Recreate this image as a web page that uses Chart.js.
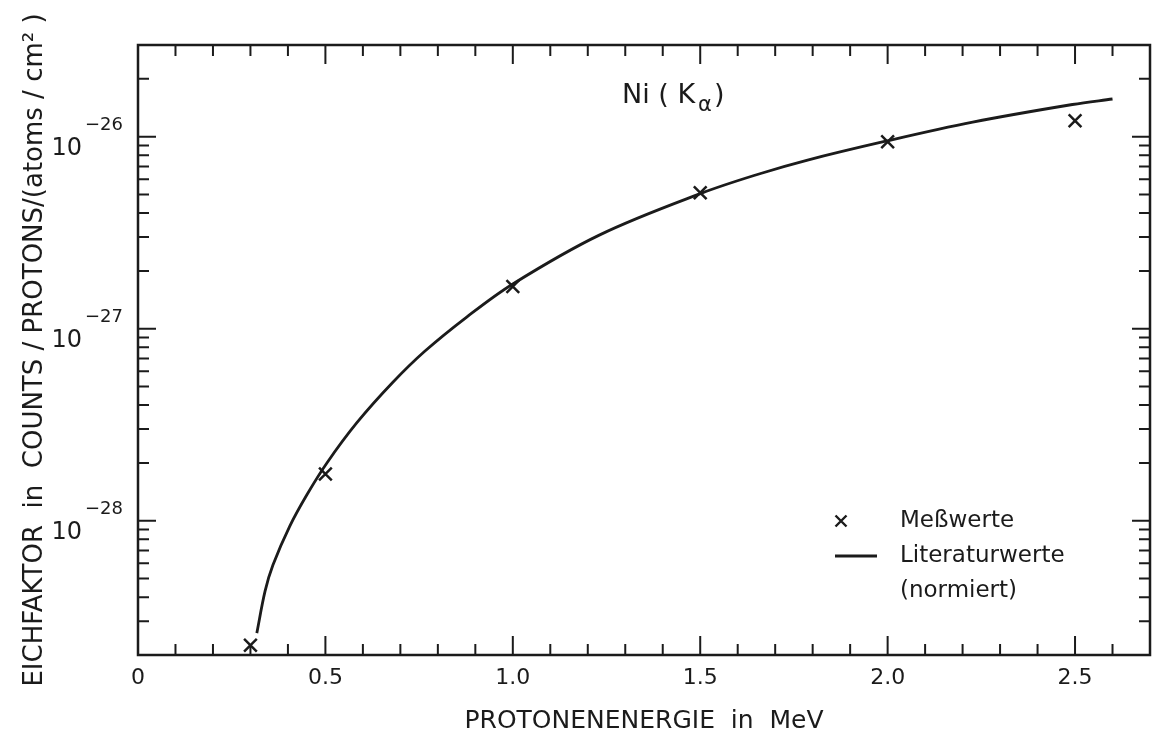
<!DOCTYPE html>
<html>
<head>
<meta charset="utf-8">
<script src="https://cdn.jsdelivr.net/npm/chart.js@4.4.1/dist/chart.umd.min.js"></script>
<style>
  html, body { margin: 0; padding: 0; background: #fff; }
</style>
</head>
<body>
<canvas id="chart" width="1162" height="740"></canvas>
<script>
// Meßwerte (crosses)
const energies = [0.3, 0.5, 1.0, 1.5, 2.0, 2.5];
const measured = [2.25e-29, 1.75e-28, 1.66e-27, 5.1e-27, 9.4e-27, 1.21e-26];

// Literaturwerte (normiert)
const curveEnergies = [0.317, 0.339, 0.36, 0.405, 0.451, 0.504, 0.584, 0.68, 0.765, 0.877,
  1.0, 1.232, 1.504, 1.659, 1.784, 1.992, 2.227, 2.493, 2.6];
const curveValues = [2.6e-29, 4.3e-29, 5.88e-29, 9.38e-29, 1.37e-28, 2.0e-28, 3.24e-28, 5.26e-28, 7.63e-28, 1.15e-27,
  1.71e-27, 3.08e-27, 5.08e-27, 6.41e-27, 7.53e-27, 9.44e-27, 1.19e-26, 1.47e-26, 1.57e-26];

// axes
const xMin = 0, xMax = 2.7, xStep = 0.1, xLabelStep = 0.5;
const yMin = 2e-29, yMax = 3e-26;
const yDecades = [-29, -28, -27, -26];

const legendEntries = [
  { marker: 'cross', lines: ['Meßwerte'] },
  { marker: 'line', lines: ['Literaturwerte', '(normiert)'] }
];

const ink = '#1b1b1b';
const font = 'DejaVu Sans';

const isLabelTick = (v) => Math.abs(v / xLabelStep - Math.round(v / xLabelStep)) < 1e-6;

// inward ticks on all four sides + frame
const frameTicks = {
  id: 'frameTicks',
  afterDraw(chart) {
    const { ctx, chartArea: a, scales: { x, y } } = chart;
    ctx.save();
    ctx.strokeStyle = ink;
    ctx.lineWidth = 2;
    ctx.beginPath();
    x.ticks.forEach(t => {
      const px = x.getPixelForValue(t.value);
      const len = isLabelTick(t.value) ? 19 : 11;
      ctx.moveTo(px, a.bottom); ctx.lineTo(px, a.bottom - len);
      ctx.moveTo(px, a.top); ctx.lineTo(px, a.top + len);
    });
    y.ticks.forEach(t => {
      const py = y.getPixelForValue(t.value);
      const len = t.major ? 18 : 11;
      ctx.moveTo(a.left, py); ctx.lineTo(a.left + len, py);
      ctx.moveTo(a.right, py); ctx.lineTo(a.right - len, py);
    });
    ctx.stroke();
    ctx.lineWidth = 2.5;
    ctx.strokeRect(a.left, a.top, a.right - a.left, a.bottom - a.top);
    ctx.restore();
  }
};

// decade labels 10^n with a raised exponent
const yLabels = {
  id: 'yLabels',
  afterDraw(chart) {
    const { ctx, chartArea: a, scales: { y } } = chart;
    ctx.save();
    ctx.fillStyle = ink;
    ctx.textBaseline = 'alphabetic';
    ctx.textAlign = 'right';
    y.ticks.filter(t => t.major).forEach(t => {
      const py = y.getPixelForValue(t.value);
      const exp = '\u2212' + Math.abs(Math.round(Math.log10(t.value)));
      const right = a.left - 15;
      ctx.font = '18px "' + font + '"';
      const ew = ctx.measureText(exp).width;
      ctx.fillText(exp, right, py - 7);
      ctx.font = '24px "' + font + '"';
      ctx.fillText('10', right - ew - 3, py + 18);
    });
    ctx.restore();
  }
};

// "Ni (Kα)" label and the legend inside the plot
const annotations = {
  id: 'annotations',
  afterDraw(chart) {
    const { ctx, chartArea: a } = chart;
    ctx.save();
    ctx.fillStyle = ink;
    ctx.textBaseline = 'alphabetic';
    ctx.textAlign = 'left';

    let tx = 622, ty = 103;
    ctx.font = '27px "' + font + '"';
    ctx.fillText('Ni ( K', tx, ty);
    tx += ctx.measureText('Ni ( K').width + 3;
    ctx.font = '21px "' + font + '"';
    ctx.fillText('\u03B1', tx, ty + 8);
    tx += ctx.measureText('\u03B1').width + 2;
    ctx.font = '27px "' + font + '"';
    ctx.fillText(')', tx, ty);

    // legend
    const lx = a.right - 315, textX = a.right - 250;
    let ly = 521;
    ctx.font = '23px "' + font + '"';
    ctx.textBaseline = 'middle';
    ctx.strokeStyle = ink;
    legendEntries.forEach(e => {
      ctx.beginPath();
      if (e.marker === 'cross') {
        const cx = lx + 6, r = 5.5;
        ctx.lineWidth = 2.4;
        ctx.moveTo(cx - r, ly - r); ctx.lineTo(cx + r, ly + r);
        ctx.moveTo(cx - r, ly + r); ctx.lineTo(cx + r, ly - r);
      } else {
        ctx.lineWidth = 2.8;
        ctx.moveTo(lx, ly); ctx.lineTo(lx + 42, ly);
      }
      ctx.stroke();
      e.lines.forEach(s => {
        ctx.fillText(s, textX, ly);
        ly += 35;
      });
    });
    ctx.restore();
  }
};

new Chart(document.getElementById('chart'), {
  type: 'scatter',
  data: {
    datasets: [
      {
        label: 'Meßwerte',
        data: energies.map((e, i) => ({ x: e, y: measured[i] })),
        showLine: false,
        pointStyle: 'crossRot',
        pointRadius: 9,
        borderWidth: 2.5,
        borderColor: ink,
        backgroundColor: ink
      },
      {
        label: 'Literaturwerte',
        data: curveEnergies.map((e, i) => ({ x: e, y: curveValues[i] })),
        showLine: true,
        pointRadius: 0,
        borderWidth: 2.8,
        borderColor: ink,
        tension: 0.35
      }
    ]
  },
  options: {
    responsive: false,
    animation: false,
    devicePixelRatio: 1,
    layout: { padding: { left: 0, right: 12, top: 45, bottom: 0 } },
    plugins: {
      legend: { display: false },
      title: { display: false },
      tooltip: { enabled: false }
    },
    scales: {
      x: {
        type: 'linear',
        min: xMin,
        max: xMax,
        grid: { display: false, drawTicks: false },
        border: { display: false },
        ticks: {
          stepSize: xStep,
          autoSkip: false,
          maxRotation: 0,
          minRotation: 0,
          padding: 10,
          color: ink,
          font: { family: font, size: 22 },
          callback: (v) => isLabelTick(v) ? (Math.abs(v) < 1e-9 ? '0' : v.toFixed(1)) : ''
        },
        title: {
          display: true,
          text: 'PROTONENENERGIE  in  MeV',
          color: ink,
          font: { family: font, size: 25 },
          padding: { top: 0, bottom: 4 }
        },
        afterFit: (scale) => { scale.height = 85; }
      },
      y: {
        type: 'logarithmic',
        min: yMin,
        max: yMax,
        grid: { display: false, drawTicks: false },
        border: { display: false },
        afterBuildTicks: (scale) => {
          const t = [];
          yDecades.forEach(e => {
            for (let m = 1; m <= 9; m++) {
              const v = m * Math.pow(10, e);
              if (v >= yMin * 0.999 && v <= yMax * 1.001) t.push({ value: v, major: m === 1 });
            }
          });
          scale.ticks = t;
        },
        ticks: {
          autoSkip: false,
          callback: () => ''
        },
        title: {
          display: true,
          text: 'EICHFAKTOR  in  COUNTS / PROTONS/(atoms / cm\u00B2 )',
          color: ink,
          font: { family: font, size: 26 },
          padding: { top: 20, bottom: 0 }
        },
        afterFit: (scale) => { scale.width = 138; }
      }
    }
  },
  plugins: [frameTicks, yLabels, annotations]
});
</script>
</body>
</html>
